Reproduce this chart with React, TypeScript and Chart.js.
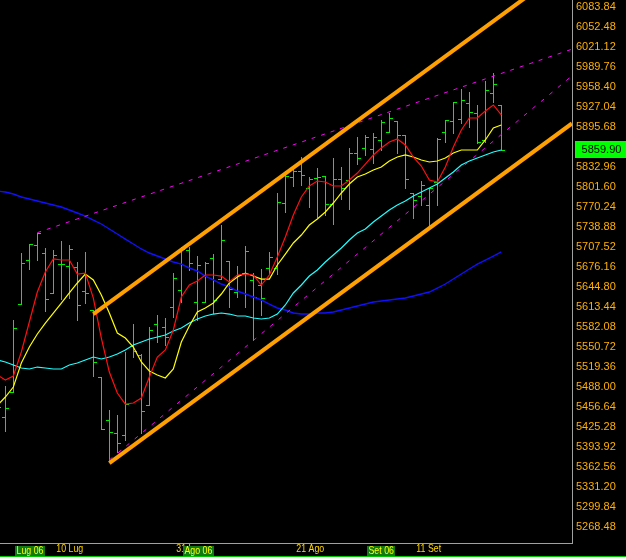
import React, { useEffect, useRef } from 'react';
import { Chart, registerables } from 'chart.js';

Chart.register(...registerables);

// Trading days (DAX, summer 2006)
const dates = [
  '2006-06-29', '2006-06-30',
  '2006-07-03', '2006-07-04', '2006-07-05', '2006-07-06', '2006-07-07',
  '2006-07-10', '2006-07-11', '2006-07-12', '2006-07-13', '2006-07-14',
  '2006-07-17', '2006-07-18', '2006-07-19', '2006-07-20', '2006-07-21',
  '2006-07-24', '2006-07-25', '2006-07-26', '2006-07-27', '2006-07-28',
  '2006-07-31',
  '2006-08-01', '2006-08-02', '2006-08-03', '2006-08-04',
  '2006-08-07', '2006-08-08', '2006-08-09', '2006-08-10', '2006-08-11',
  '2006-08-14', '2006-08-15', '2006-08-16', '2006-08-17', '2006-08-18',
  '2006-08-21', '2006-08-22', '2006-08-23', '2006-08-24', '2006-08-25',
  '2006-08-28', '2006-08-29', '2006-08-30', '2006-08-31',
  '2006-09-01',
  '2006-09-04', '2006-09-05', '2006-09-06', '2006-09-07', '2006-09-08',
  '2006-09-11', '2006-09-12', '2006-09-13', '2006-09-14', '2006-09-15',
  '2006-09-18', '2006-09-19', '2006-09-20', '2006-09-21', '2006-09-22',
  '2006-09-25', '2006-09-26',
];

const opens = [
  5436.2, 5441.4, 5479.7, 5617.7, 5687.1, 5710.6, 5698.6, 5634.9, 5680.4, 5677.7,
  5676.6, 5638.5, 5608.7, 5504.1, 5436.2, 5415.9, 5412.7, 5552.3, 5537.7, 5460.2,
  5586.8, 5581.6, 5613.9, 5640.1, 5702.8, 5621.7, 5621.7, 5689.8, 5656.9, 5686.0,
  5637.4, 5666.7, 5655.8, 5647.4, 5674.6, 5674.1, 5777.0, 5817.8, 5827.1, 5799.6,
  5815.2, 5818.8, 5774.4, 5813.7, 5812.6, 5854.4, 5862.3, 5860.7, 5875.3, 5888.3,
  5905.1, 5882.6, 5791.7, 5787.5, 5773.4, 5809.4, 5888.3, 5905.5, 5907.7, 5933.8,
  5918.1, 5875.3, 5948.5, 5930.2,
];
const highs = [
  5475.4, 5489.6, 5593.0, 5698.6, 5712.2, 5729.9, 5705.9, 5702.8, 5716.4, 5711.1,
  5684.0, 5699.7, 5608.7, 5504.1, 5451.9, 5444.1, 5542.9, 5586.8, 5539.7, 5581.6,
  5600.4, 5595.7, 5666.3, 5708.0, 5708.0, 5693.4, 5684.5, 5696.5, 5742.0, 5686.0,
  5677.7, 5709.1, 5666.3, 5672.5, 5700.1, 5791.7, 5827.1, 5833.4, 5848.2, 5816.8,
  5830.9, 5818.8, 5846.6, 5833.4, 5862.3, 5879.5, 5883.6, 5885.8, 5906.6, 5917.1,
  5905.5, 5882.6, 5791.7, 5811.0, 5800.0, 5878.4, 5906.6, 5935.3, 5954.8, 5950.1,
  5930.2, 5968.3, 5979.9, 5930.2,
];
const lows = [
  5428.4, 5419.5, 5479.7, 5617.7, 5673.5, 5687.6, 5607.6, 5634.9, 5626.4, 5628.0,
  5593.0, 5619.2, 5505.2, 5421.7, 5373.5, 5386.1, 5404.9, 5534.6, 5415.4, 5459.3,
  5559.0, 5554.3, 5597.3, 5621.7, 5671.4, 5593.0, 5621.7, 5603.5, 5656.9, 5613.0,
  5628.6, 5613.0, 5561.7, 5600.9, 5666.3, 5665.2, 5762.9, 5803.2, 5804.3, 5770.7,
  5755.0, 5757.7, 5743.1, 5783.2, 5766.6, 5837.2, 5851.8, 5839.7, 5859.6, 5888.3,
  5855.4, 5799.6, 5753.0, 5773.4, 5738.9, 5773.4, 5872.6, 5886.7, 5901.5, 5896.1,
  5870.1, 5872.6, 5935.3, 5859.9,
];
const closes = [
  5457.1, 5455.5, 5581.0, 5681.9, 5712.2, 5729.0, 5625.5, 5695.0, 5680.4, 5703.9,
  5616.1, 5635.9, 5526.7, 5421.7, 5417.4, 5400.2, 5461.3, 5544.4, 5450.4, 5577.4,
  5568.0, 5566.4, 5658.4, 5703.9, 5682.9, 5678.8, 5681.9, 5624.4, 5718.5, 5641.2,
  5663.1, 5701.7, 5628.6, 5627.1, 5692.3, 5777.6, 5818.8, 5827.1, 5820.4, 5813.7,
  5817.7, 5774.4, 5813.7, 5800.0, 5855.4, 5846.6, 5879.5, 5879.5, 5903.5, 5909.3,
  5883.1, 5813.7, 5781.2, 5804.7, 5800.0, 5876.8, 5906.6, 5935.3, 5938.0, 5919.7,
  5872.6, 5953.7, 5963.1, 5859.9,
];

// moving averages
const maRed = [
  5506.8, 5499.0, 5505.2, 5542.9, 5589.9, 5636.9, 5668.3, 5688.7, 5687.1, 5687.1,
  5665.2, 5666.7, 5627.5, 5564.8, 5511.5, 5478.6, 5461.3, 5462.9, 5470.7, 5503.7,
  5535.0, 5546.0, 5577.4, 5629.1, 5647.9, 5654.2, 5663.6, 5663.6, 5662.0, 5652.6,
  5663.6, 5665.2, 5663.6, 5647.9, 5663.6, 5691.8, 5723.2, 5757.7, 5785.9, 5803.2,
  5811.0, 5809.4, 5803.2, 5803.2, 5812.6, 5823.5, 5837.6, 5851.8, 5862.7, 5872.1,
  5876.8, 5867.4, 5848.6, 5834.5, 5812.6, 5809.4, 5832.9, 5864.3, 5891.0, 5909.8,
  5909.8, 5920.8, 5930.2, 5914.5,
];
const maYellow = [
  5459.0, 5472.3, 5488.0, 5525.6, 5550.7, 5571.1, 5588.3, 5604.0, 5619.7, 5635.4,
  5651.1, 5665.2, 5655.8, 5632.2, 5604.0, 5572.7, 5564.8, 5550.7, 5527.2, 5513.1,
  5506.8, 5502.1, 5516.2, 5558.5, 5583.6, 5605.6, 5611.9, 5619.7, 5633.8, 5651.1,
  5660.5, 5666.7, 5662.0, 5657.3, 5657.3, 5679.3, 5696.5, 5713.8, 5726.3, 5742.0,
  5751.4, 5762.4, 5776.5, 5792.2, 5806.3, 5817.3, 5822.0, 5828.2, 5832.9, 5842.4,
  5848.6, 5851.8, 5848.6, 5843.9, 5840.8, 5842.4, 5847.1, 5854.9, 5859.6, 5859.6,
  5859.6, 5875.3, 5894.1, 5898.8,
];
const maCyan = [
  5530.3, 5527.2, 5522.5, 5517.8, 5516.2, 5519.3, 5517.8, 5516.2, 5516.2, 5522.5,
  5525.6, 5530.3, 5535.0, 5531.9, 5535.0, 5539.7, 5546.0, 5553.8, 5558.5, 5563.2,
  5566.4, 5569.5, 5575.8, 5580.5, 5588.3, 5594.6, 5599.3, 5602.4, 5604.0, 5602.4,
  5599.3, 5599.3, 5596.2, 5594.6, 5596.2, 5602.4, 5616.6, 5635.4, 5647.9, 5662.0,
  5671.4, 5684.0, 5695.0, 5705.9, 5718.5, 5729.5, 5735.7, 5746.7, 5756.1, 5765.5,
  5773.4, 5779.6, 5787.5, 5793.7, 5800.0, 5806.3, 5815.7, 5825.1, 5836.1, 5842.4,
  5847.1, 5851.8, 5856.5, 5859.6,
];
const maBlue = [
  5795.3, 5793.7, 5790.6, 5785.9, 5782.8, 5779.6, 5776.5, 5773.4, 5770.2, 5765.5,
  5760.8, 5756.1, 5749.8, 5743.6, 5735.7, 5727.9, 5720.0, 5712.2, 5704.4, 5698.1,
  5693.4, 5688.7, 5684.0, 5680.8, 5674.6, 5669.9, 5662.0, 5655.8, 5649.5, 5644.8,
  5638.5, 5633.8, 5629.1, 5624.4, 5618.1, 5611.9, 5608.7, 5604.0, 5602.4, 5602.4,
  5604.0, 5604.0, 5605.6, 5608.7, 5611.9, 5615.0, 5618.1, 5621.3, 5622.8, 5624.4,
  5626.0, 5627.5, 5630.7, 5633.8, 5636.9, 5643.2, 5649.5, 5657.3, 5665.2, 5673.0,
  5680.8, 5687.1, 5693.4, 5699.7,
];

// trend lines: [startIndex, startValue, endIndex, endValue]
const channelUpper = [12, 5602.4, 71.83, 6151.9];
const channelLower = [14, 5368.8, 71.83, 5901.2];
const dashedUpper = [5, 5730.0, 71.83, 6017.7];
const dashedLower = [14, 5373.5, 71.83, 5975.9];

// axis
const yMin = 5243.39;
const yMax = 6094.82;
const xMin = 0.333;
const xMax = 71.833;
const yTickValues = [
  6083.84, 6052.48, 6021.12, 5989.76, 5958.40, 5927.04, 5895.68, 5864.32, 5832.96,
  5801.60, 5770.24, 5738.88, 5707.52, 5676.16, 5644.80, 5613.44, 5582.08, 5550.72,
  5519.36, 5488.00, 5456.64, 5425.28, 5393.92, 5362.56, 5331.20, 5299.84, 5268.48,
];
const dayTickDates = ['2006-07-10', '2006-07-31', '2006-08-21', '2006-09-11'];
const dayTickLabels = ['10 Lug', '31 Lug', '21 Ago', '11 Set'];
const monthTickDates = ['2006-07-03', '2006-08-01', '2006-09-01'];
const monthTickLabels = ['Lug 06', 'Ago 06', 'Set 06'];

const lastPrice = closes[closes.length - 1];

const FONT = '11px "Liberation Sans", Arial, sans-serif';
const X_SQUEEZE = 0.8;

const seg = (a: number[]) => [
  { x: a[0], y: a[1] },
  { x: a[2], y: a[3] },
];
const series = (vals: number[]) => vals.map((v, i) => ({ x: i, y: v }));

const backgroundPlugin = {
  id: 'bgPlugin',
  beforeDraw(chart: any) {
    const { ctx, width, height } = chart;
    ctx.save();
    ctx.fillStyle = '#000000';
    ctx.fillRect(0, 0, width, height);
    ctx.fillStyle = '#00c800';
    ctx.fillRect(0, 556, width, 1);
    ctx.fillStyle = '#ffffff';
    ctx.fillRect(0, 557, width, height - 557);
    ctx.restore();
  },
};

const ohlcPlugin = {
  id: 'ohlcPlugin',
  beforeDatasetsDraw(chart: any) {
    const { ctx, chartArea } = chart;
    const xs = chart.scales.x;
    const ys = chart.scales.y;
    ctx.save();
    ctx.beginPath();
    ctx.rect(chartArea.left, chartArea.top, chartArea.right - chartArea.left, chartArea.bottom - chartArea.top);
    ctx.clip();
    ctx.strokeStyle = '#00f000';
    ctx.lineWidth = 1;
    ctx.beginPath();
    for (let i = 0; i < opens.length; i++) {
      const px = Math.round(xs.getPixelForValue(i)) + 0.5;
      const yh = Math.round(ys.getPixelForValue(highs[i]));
      const yl = Math.round(ys.getPixelForValue(lows[i]));
      const yo = Math.round(ys.getPixelForValue(opens[i])) + 0.5;
      const yc = Math.round(ys.getPixelForValue(closes[i])) + 0.5;
      ctx.moveTo(px, yh);
      ctx.lineTo(px, yl + 1);
      ctx.moveTo(px - 3.5, yo);
      ctx.lineTo(px, yo);
      ctx.moveTo(px, yc);
      ctx.lineTo(px + 3.5, yc);
    }
    ctx.stroke();
    ctx.restore();
  },
};

const drawSqueezed = (ctx: any, text: string, x: number, y: number) => {
  ctx.save();
  ctx.translate(x, y);
  ctx.scale(X_SQUEEZE, 1);
  ctx.fillText(text, 0, 0);
  ctx.restore();
};

const labelsPlugin = {
  id: 'labelsPlugin',
  afterDraw(chart: any) {
    const { ctx, chartArea, width } = chart;
    const xs = chart.scales.x;
    const ys = chart.scales.y;
    ctx.save();
    // bottom border of the plot
    ctx.fillStyle = '#a0a0a0';
    ctx.fillRect(chartArea.left, chartArea.bottom, chartArea.right - chartArea.left + 1, 1);

    ctx.font = FONT;
    ctx.textBaseline = 'middle';
    ctx.textAlign = 'left';
    dayTickDates.forEach((d, n) => {
      const i = dates.indexOf(d);
      ctx.fillStyle = '#ffd700';
      drawSqueezed(ctx, dayTickLabels[n], xs.getPixelForValue(i) + 3, 549);
    });
    monthTickDates.forEach((d, n) => {
      const i = dates.indexOf(d);
      const px = Math.round(xs.getPixelForValue(i)) + 2;
      const w = ctx.measureText(monthTickLabels[n]).width * X_SQUEEZE;
      ctx.fillStyle = '#127a12';
      ctx.fillRect(px, 546, Math.round(w) + 3, 10);
      ctx.fillStyle = '#ffff00';
      drawSqueezed(ctx, monthTickLabels[n], px + 1.5, 551);
    });

    // last price box
    const py = ys.getPixelForValue(lastPrice);
    const bx = chartArea.right + 3;
    ctx.fillStyle = '#00ff00';
    ctx.fillRect(bx, Math.round(py - 9), width - bx, 17);
    ctx.fillStyle = '#000000';
    ctx.font = FONT;
    ctx.textAlign = 'center';
    ctx.fillText(lastPrice.toFixed(2), (bx + width) / 2 + 1, py);
    ctx.restore();
  },
};

export default function App() {
  const ref = useRef<HTMLCanvasElement>(null);

  useEffect(() => {
    const canvas = ref.current;
    if (!canvas) return;
    const lineDs = (label: string, data: any[], color: string, widthPx: number, order: number, dash: number[] = []) => ({
      type: 'line' as const,
      label,
      data,
      borderColor: color,
      backgroundColor: color,
      borderWidth: widthPx,
      borderDash: dash,
      pointRadius: 0,
      pointHoverRadius: 0,
      tension: 0,
      fill: false,
      order,
    });
    const chart = new Chart(canvas, {
      type: 'line',
      data: {
        datasets: [
          lineDs('Canale sup.', seg(channelUpper), '#ffa000', 4, 0),
          lineDs('Canale inf.', seg(channelLower), '#ffa000', 4, 1),
          lineDs('Trend sup.', seg(dashedUpper), '#ff00ff', 1, 2, [4, 6]),
          lineDs('Trend inf.', seg(dashedLower), '#ff00ff', 1, 3, [4, 7]),
          lineDs('Media 5', series(maRed), '#ff1010', 1.2, 4),
          lineDs('Media 10', series(maYellow), '#ffff00', 1.2, 5),
          lineDs('Media 30', series(maCyan), '#20ffff', 1.2, 6),
          lineDs('Media 100', series(maBlue), '#1010ff', 1.4, 7),
        ],
      },
      options: {
        responsive: false,
        animation: false,
        devicePixelRatio: 1,
        layout: { padding: { left: 0, right: 0, top: 0, bottom: 17 }, autoPadding: false } as any,
        plugins: {
          legend: { display: false },
          tooltip: { enabled: false },
        },
        scales: {
          x: {
            type: 'linear',
            min: xMin,
            max: xMax,
            display: false,
          },
          y: {
            type: 'linear',
            position: 'right',
            min: yMin,
            max: yMax,
            afterBuildTicks: (s: any) => {
              s.ticks = yTickValues.map((v) => ({ value: v }));
            },
            afterFit: (s: any) => {
              s.width = 54;
              s.paddingTop = 0;
              s.paddingBottom = 0;
            },
            grid: { display: false, drawTicks: false },
            border: { display: true, color: '#a0a0a0', width: 1 },
            ticks: {
              color: '#ffb000',
              font: { family: '"Liberation Sans", Arial, sans-serif', size: 11 },
              padding: 4,
              autoSkip: false,
              callback: (v: any) => Number(v).toFixed(2),
            },
          },
        },
      },
      plugins: [backgroundPlugin, ohlcPlugin, labelsPlugin],
    } as any);
    return () => chart.destroy();
  }, []);

  return (
    <div style={{ position: 'fixed', left: 0, top: 0, width: 626, height: 560, background: '#000' }}>
      <canvas ref={ref} width={626} height={560} style={{ display: 'block', width: 626, height: 560 }} />
    </div>
  );
}
